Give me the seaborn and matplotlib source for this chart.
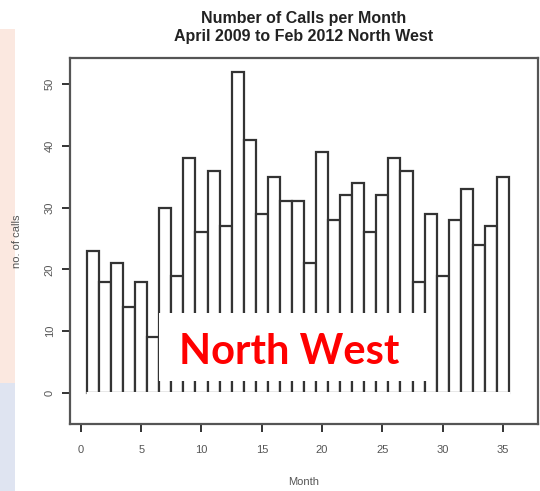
import matplotlib
matplotlib.use("Agg")
import matplotlib.pyplot as plt
from matplotlib.patches import Rectangle
import seaborn as sns
import pandas as pd

months = list(range(1, 36))
calls = [23, 18, 21, 14, 18, 9, 30, 19, 38, 26, 36, 27, 52, 41, 29, 35, 31, 31,
         21, 39, 28, 32, 34, 26, 32, 38, 36, 18, 29, 19, 28, 33, 24, 27, 35]
x_ticks = [0, 5, 10, 15, 20, 25, 30, 35]
y_ticks = [0, 10, 20, 30, 40, 50]
title_lines = ["Number of Calls per Month", "April 2009 to Feb 2012 North West"]
overlay_text = "North West"

sns.set_theme(style="white")
plt.rcParams['font.family'] = ['Liberation Sans', 'DejaVu Sans']

df = pd.DataFrame({"Month": months, "calls": calls})

W, H = 540, 491
fig = plt.figure(figsize=(W / 100, H / 100), dpi=100)
ax = fig.add_axes([70 / W, 1 - 424 / H, (538 - 70) / W, (424 - 58) / H])

sns.barplot(data=df, x="Month", y="calls", native_scale=True, width=1.0,
            color="white", edgecolor="#333333", linewidth=1.6, saturation=1,
            errorbar=None, ax=ax)
# R-style bars: no visible baseline
ax.hlines(0, months[0] - 0.6, months[-1] + 0.6, color="white", lw=2.2, zorder=5)

ax.set_xlim(-0.9, 37.9)
ax.set_ylim(-5.0, 54.2)
ax.set_xticks(x_ticks)
ax.set_yticks(y_ticks)
ax.set_xticklabels([str(v) for v in x_ticks])
ax.set_yticklabels([str(v) for v in y_ticks])
ax.tick_params(axis="both", direction="out", length=6, width=1.4, color="#333333",
               labelsize=8, labelcolor="#555555", bottom=True, left=True)
ax.tick_params(axis="x", pad=9)
ax.tick_params(axis="y", labelrotation=90, pad=5)
for lab in ax.get_yticklabels():
    lab.set_va("center")
for sp in ax.spines.values():
    sp.set_color("#555555")
    sp.set_linewidth(1.6)

ax.set_xlabel("Month", fontsize=8, color="#555555", labelpad=16)
ax.set_ylabel("no. of calls", fontsize=8, color="#555555", labelpad=16)
ax.set_title("\n".join(title_lines), fontsize=11.5, fontweight="bold",
             color="#222222", pad=12, linespacing=1.25)

# slide background tints at left edge (behind everything)
fig.add_artist(Rectangle((0, 0.22), 15 / W, 0.72, transform=fig.transFigure,
                         facecolor="#fbe8e0", edgecolor="none", zorder=-2))
fig.add_artist(Rectangle((0, 0), 15 / W, 0.22, transform=fig.transFigure,
                         facecolor="#dfe4f1", edgecolor="none", zorder=-2))

# overlay label box
fig.add_artist(Rectangle((159 / W, 1 - 381 / H), (427 - 159) / W, (381 - 313) / H,
                         transform=fig.transFigure, facecolor="white",
                         edgecolor="none", zorder=5))
fig.text(289 / W, 1 - 352 / H, overlay_text, color="#ff0000", fontsize=30,
         fontweight="bold", family=["Lato", "DejaVu Sans"],
         ha="center", va="center", zorder=6)

fig.savefig("out.png", dpi=100)
